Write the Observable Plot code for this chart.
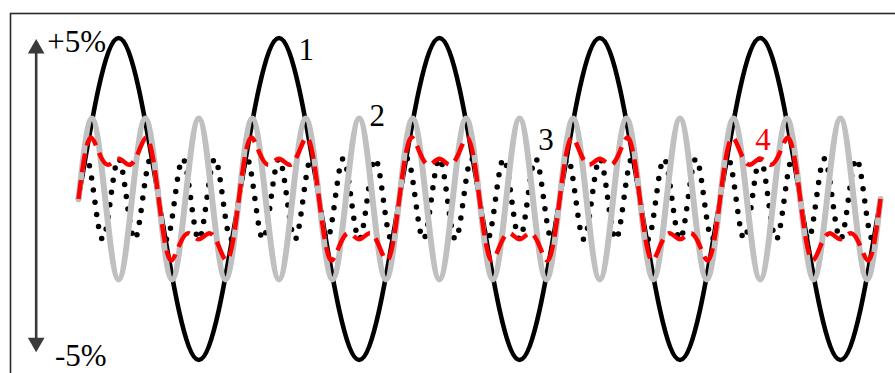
<!DOCTYPE html>
<html>
<head>
<meta charset="utf-8">
<script src="https://cdn.jsdelivr.net/npm/d3@7"></script>
<script src="https://cdn.jsdelivr.net/npm/@observablehq/plot@0.6"></script>
<style>
  html, body { margin: 0; padding: 0; background: #fff; }
  #chart { width: 895px; height: 373px; overflow: hidden; }
  #chart text { font-family: "Liberation Serif", "DejaVu Serif", serif; }
</style>
</head>
<body>
<div id="chart"></div>
<script>
// Phase axis in degrees of the fundamental (5 full periods), values in %.
// Curve 1: fundamental, key points every 90 degrees
const wave1Step = 90;
const wave1 = [0,5,0,-5, 0,5,0,-5, 0,5,0,-5, 0,5,0,-5, 0,5,0,-5, 0];

// Curve 2: third harmonic, key points every 30 degrees
const wave2Step = 30;
const wave2 = [
  0,2.5,0,-2.5, 0,2.5,0,-2.5, 0,2.5,0,-2.5, 0,2.5,0,-2.5, 0,2.5,0,-2.5,
  0,2.5,0,-2.5, 0,2.5,0,-2.5, 0,2.5,0,-2.5, 0,2.5,0,-2.5, 0,2.5,0,-2.5,
  0,2.5,0,-2.5, 0,2.5,0,-2.5, 0,2.5,0,-2.5, 0,2.5,0,-2.5, 0,2.5,0,-2.5,
  0
];

// Curve 3: fifth harmonic (dotted), key points every 18 degrees
const wave3Step = 18;
const wave3 = [
  0,1.25,0,-1.25, 0,1.25,0,-1.25, 0,1.25,0,-1.25, 0,1.25,0,-1.25, 0,1.25,0,-1.25,
  0,1.25,0,-1.25, 0,1.25,0,-1.25, 0,1.25,0,-1.25, 0,1.25,0,-1.25, 0,1.25,0,-1.25,
  0,1.25,0,-1.25, 0,1.25,0,-1.25, 0,1.25,0,-1.25, 0,1.25,0,-1.25, 0,1.25,0,-1.25,
  0,1.25,0,-1.25, 0,1.25,0,-1.25, 0,1.25,0,-1.25, 0,1.25,0,-1.25, 0,1.25,0,-1.25,
  0,1.25,0,-1.25, 0,1.25,0,-1.25, 0,1.25,0,-1.25, 0,1.25,0,-1.25, 0,1.25,0,-1.25,
  0
];

// Curve 4: combined wave (red dashed), read key points
const wave4X = [
  0,8,16,28,45,66,90,114,135,152,164,172,
  180,188,196,208,225,246,270,294,315,332,344,352,
  360,368,376,388,405,426,450,474,495,512,524,532,
  540,548,556,568,585,606,630,654,675,692,704,712,
  720,728,736,748,765,786,810,834,855,872,884,892,
  900,908,916,928,945,966,990,1014,1035,1052,1064,1072,
  1080,1088,1096,1108,1125,1146,1170,1194,1215,1232,1244,1252,
  1260,1268,1276,1288,1305,1326,1350,1374,1395,1412,1424,1432,
  1440,1448,1456,1468,1485,1506,1530,1554,1575,1592,1604,1612,
  1620,1628,1636,1648,1665,1686,1710,1734,1755,1772,1784,1792,
  1800
];
const wave4Y = [
  0,0.84,1.49,1.91,1.47,1.06,1.25,1.06,1.47,1.91,1.49,0.84,
  0,-0.84,-1.49,-1.91,-1.47,-1.06,-1.25,-1.06,-1.47,-1.91,-1.49,-0.84,
  0,0.84,1.49,1.91,1.47,1.06,1.25,1.06,1.47,1.91,1.49,0.84,
  0,-0.84,-1.49,-1.91,-1.47,-1.06,-1.25,-1.06,-1.47,-1.91,-1.49,-0.84,
  0,0.84,1.49,1.91,1.47,1.06,1.25,1.06,1.47,1.91,1.49,0.84,
  0,-0.84,-1.49,-1.91,-1.47,-1.06,-1.25,-1.06,-1.47,-1.91,-1.49,-0.84,
  0,0.84,1.49,1.91,1.47,1.06,1.25,1.06,1.47,1.91,1.49,0.84,
  0,-0.84,-1.49,-1.91,-1.47,-1.06,-1.25,-1.06,-1.47,-1.91,-1.49,-0.84,
  0,0.84,1.49,1.91,1.47,1.06,1.25,1.06,1.47,1.91,1.49,0.84,
  0,-0.84,-1.49,-1.91,-1.47,-1.06,-1.25,-1.06,-1.47,-1.91,-1.49,-0.84,
  0
];

// Curve labels
const curveLabels = ["1", "2", "3", "4"];
const curveLabelX = [494, 653, 1032, 1519];
const curveLabelY = [4.33, 2.28, 1.51, 1.51];
const curveLabelColors = ["#000", "#000", "#000", "#ff0000"];

// Scale labels and arrow
const scaleLabels = ["+5%", "-5%"];
const scaleLabelX = [-70, -53];
const scaleLabelY = [4.56, -5.2];
const arrowX = -95;
const arrowTop = 4.97;
const arrowBottom = -4.76;

const toRows = (vals, step) => vals.map((v, i) => ({x: i * step, y: v}));
const rows1 = toRows(wave1, wave1Step);
const rows2 = toRows(wave2, wave2Step);
const rows3 = toRows(wave3, wave3Step);
const rows4 = wave4X.map((x, i) => ({x, y: wave4Y[i]}));
const labelRows = curveLabels.map((t, i) => ({t, x: curveLabelX[i], y: curveLabelY[i], c: curveLabelColors[i]}));
const scaleRows = scaleLabels.map((t, i) => ({t, x: scaleLabelX[i], y: scaleLabelY[i]}));

const serif = "Liberation Serif";

const chart = Plot.plot({
  width: 895,
  height: 373,
  marginLeft: 10,
  marginTop: 13,
  marginRight: -20,
  marginBottom: -20,
  x: {domain: [0, 1800], range: [78, 880], axis: null},
  y: {domain: [-5, 5], range: [359.5, 37.5], axis: null},
  style: {background: "#fff"},
  marks: [
    Plot.frame({stroke: "#2a2a2a", strokeWidth: 1.6}),
    Plot.ruleX([arrowX], {y1: arrowTop - 0.3, y2: arrowBottom + 0.3, stroke: "#3a3a3a", strokeWidth: 2.6}),
    Plot.dot([{x: arrowX, y: arrowTop}], {x: "x", y: "y", symbol: "triangle", r: 6.2, fill: "#3a3a3a", stroke: "none", dy: 9.7}),
    Plot.dot([{x: arrowX, y: arrowBottom}], {x: "x", y: "y", symbol: "triangle", r: 6.2, fill: "#3a3a3a", stroke: "none", rotate: 180, dy: -9.7}),
    Plot.text(scaleRows, {x: "x", y: "y", text: "t", textAnchor: "start", lineAnchor: "bottom", fontSize: 31, fontFamily: serif, fill: "#000"}),
    Plot.line(rows1, {x: "x", y: "y", curve: "natural", stroke: "#000", strokeWidth: 4.6, strokeLinecap: "round"}),
    Plot.line(rows3, {x: "x", y: "y", curve: "natural", stroke: "#000", strokeWidth: 5.5, strokeLinecap: "round", strokeDasharray: "0 12.3"}),
    Plot.line(rows2, {x: "x", y: "y", curve: "natural", stroke: "#c0c0c0", strokeWidth: 6, strokeLinecap: "round"}),
    Plot.line(rows4, {x: "x", y: "y", curve: "natural", stroke: "#ff0000", strokeWidth: 4.5, strokeLinecap: "butt", strokeDasharray: "19 8"}),
    Plot.text(labelRows, {x: "x", y: "y", text: "t", fill: "c", textAnchor: "start", lineAnchor: "bottom", fontSize: 31, fontFamily: serif})
  ]
});
document.getElementById("chart").appendChild(chart);
</script>
</body>
</html>
